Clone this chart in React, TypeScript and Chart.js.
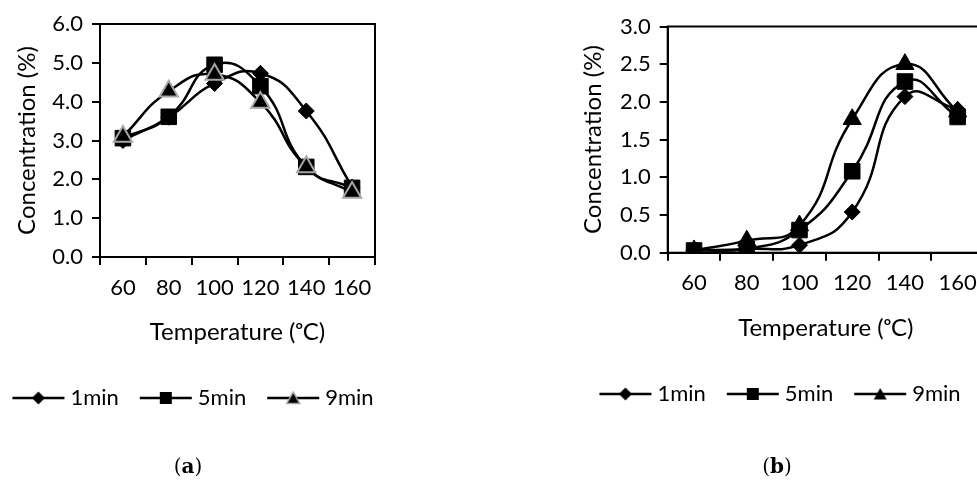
import React, { useEffect, useRef } from "react";
import { Chart, registerables } from "chart.js";

Chart.register(...registerables);

const categories = ["60", "80", "100", "120", "140", "160"];
const seriesNames = ["1min", "5min", "9min"];

const a1min = [3.0, 3.6, 4.47, 4.73, 3.76, 1.8];
const a5min = [3.06, 3.61, 4.95, 4.4, 2.32, 1.78];
const a9min = [3.1, 4.27, 4.7, 3.98, 2.32, 1.66];

const b1min = [0.03, 0.05, 0.1, 0.54, 2.07, 1.9];
const b5min = [0.03, 0.05, 0.3, 1.08, 2.27, 1.8];
const b9min = [0.03, 0.16, 0.36, 1.77, 2.5, 1.87];

const aTicks = { min: 0, max: 6, step: 1 };
const bTicks = { min: 0, max: 3, step: 0.5 };

const FONT = "Lato";
const GRAY = "#a6a6a6";

type Mk = "rectRot" | "rect" | "triangle";

function legendImage(style: Mk, border: string) {
  const c = document.createElement("canvas");
  c.width = 54;
  c.height = 16;
  const ctx = c.getContext("2d")!;
  ctx.strokeStyle = "#000";
  ctx.lineWidth = 2.5;
  ctx.beginPath();
  ctx.moveTo(1, 8);
  ctx.lineTo(53, 8);
  ctx.stroke();
  ctx.fillStyle = "#000";
  ctx.beginPath();
  if (style === "rectRot") {
    ctx.moveTo(27, 1.5);
    ctx.lineTo(33.5, 8);
    ctx.lineTo(27, 14.5);
    ctx.lineTo(20.5, 8);
  } else if (style === "rect") {
    ctx.rect(21, 2, 12, 12);
  } else {
    ctx.moveTo(27, 2);
    ctx.lineTo(33.5, 13.5);
    ctx.lineTo(20.5, 13.5);
  }
  ctx.closePath();
  ctx.fill();
  if (border !== "#000") {
    ctx.strokeStyle = border;
    ctx.lineWidth = 1.5;
    ctx.stroke();
  }
  return c;
}

const boxPlugin = {
  id: "box",
  afterDatasetsDraw(chart: any) {
    const { ctx, chartArea } = chart;
    ctx.save();
    ctx.strokeStyle = "#000";
    ctx.lineWidth = 2;
    ctx.strokeRect(chartArea.left, chartArea.top, chartArea.right - chartArea.left, chartArea.bottom - chartArea.top);
    ctx.restore();
  },
};

function makeConfig(
  values: number[][],
  ticks: { min: number; max: number; step: number },
  triBorder: string,
  geo: {
    top: number;
    yW: number;
    xH: number;
    rW: number;
    bottom: number;
    xTickPad: number;
    xTitlePad: number;
    yTitlePad: number;
  }
) {
  const styles: Mk[] = ["rectRot", "rect", "triangle"];
  const radii = [8, 11, 10.5];
  const borders = ["#000", "#000", triBorder];
  const images = styles.map((s, i) => legendImage(s, borders[i]));
  const datasets = values.map((v, i) => ({
    label: seriesNames[i],
    data: v,
    borderColor: "#000",
    borderWidth: 2.5,
    backgroundColor: "#000",
    pointStyle: styles[i],
    pointRadius: radii[i],
    pointBackgroundColor: "#000",
    pointBorderColor: borders[i],
    pointBorderWidth: i === 2 && triBorder !== "#000" ? 2 : 1,
    tension: 0.5,
    fill: false,
    order: 2 - i,
    yAxisID: "y",
  }));
  return {
    type: "line",
    data: { labels: categories, datasets },
    plugins: [boxPlugin],
    options: {
      animation: false,
      responsive: false,
      maintainAspectRatio: false,
      layout: { padding: { top: geo.top, left: 0, right: 0, bottom: geo.bottom } },
      plugins: {
        tooltip: { enabled: false },
        legend: {
          position: "bottom",
          labels: {
            usePointStyle: true,
            pointStyleWidth: 42,
            padding: 26,
            color: "#000",
            font: { family: FONT, size: 22 },
            sort: (x: any, y: any) => x.datasetIndex - y.datasetIndex,
            generateLabels: (chart: any) => {
              const items = Chart.defaults.plugins.legend.labels.generateLabels(chart);
              items.forEach((it: any) => {
                it.pointStyle = images[it.datasetIndex];
              });
              return items;
            },
          },
        },
      },
      scales: {
        x: {
          type: "category",
          offset: true,
          grid: { offset: true, drawOnChartArea: false, drawTicks: true, tickLength: 8, color: "#000", lineWidth: 2 },
          border: { color: "#000", width: 2 },
          ticks: { color: "#000", padding: geo.xTickPad, font: { family: FONT, size: 22 }, maxRotation: 0 },
          title: {
            display: true,
            text: "Temperature (ᵒC)",
            color: "#000",
            font: { family: FONT, size: 24 },
            padding: { top: 0, bottom: geo.xTitlePad },
          },
          afterFit: (s: any) => {
            s.height = geo.xH;
          },
        },
        y: {
          min: ticks.min,
          max: ticks.max,
          grid: { drawOnChartArea: false, drawTicks: true, tickLength: 8, color: "#000", lineWidth: 2 },
          border: { color: "#000", width: 2 },
          ticks: {
            stepSize: ticks.step,
            color: "#000",
            padding: 9,
            font: { family: FONT, size: 22 },
            callback: (v: any) => Number(v).toFixed(1),
          },
          title: {
            display: true,
            text: "Concentration (%)",
            color: "#000",
            font: { family: FONT, size: 24 },
            padding: { top: geo.yTitlePad, bottom: 0 },
          },
          afterFit: (s: any) => {
            s.width = geo.yW;
          },
        },
        yR: {
          type: "linear",
          position: "right",
          display: true,
          grid: { display: false },
          border: { display: false },
          ticks: { display: false },
          afterFit: (s: any) => {
            s.width = geo.rW;
          },
        },
      },
    },
  };
}

function ChartCanvas(props: { config: any; left: number; width: number }) {
  const ref = useRef<HTMLCanvasElement>(null);
  useEffect(() => {
    const chart = new Chart(ref.current!, props.config);
    return () => chart.destroy();
  }, []);
  return (
    <canvas
      ref={ref}
      width={props.width}
      height={490}
      style={{ position: "absolute", left: props.left, top: 0, width: props.width, height: 490 }}
    />
  );
}

export default function App() {
  const cfgA = makeConfig([a1min, a5min, a9min], aTicks, GRAY, {
    top: 24,
    yW: 146,
    xH: 104,
    rW: 62,
    bottom: 71,
    xTickPad: 10,
    xTitlePad: 14.6,
    yTitlePad: 58.6,
  });
  const cfgB = makeConfig([b1min, b5min, b9min], bTicks, "#000", {
    top: 26.5,
    yW: 106.7,
    xH: 104.3,
    rW: 20,
    bottom: 75,
    xTickPad: 9,
    xTitlePad: 14.6,
    yTitlePad: 17.6,
  });
  const cap: React.CSSProperties = {
    position: "absolute",
    top: 454,
    width: 60,
    textAlign: "center",
    fontFamily: "'DejaVu Serif', serif",
    fontSize: 20,
    color: "#000",
  };
  return (
    <div
      style={{
        position: "fixed",
        left: 0,
        top: 0,
        width: 977,
        height: 490,
        overflow: "hidden",
        background: "#fff",
      }}
    >
      <ChartCanvas config={cfgA} left={-46} width={483} />
      <ChartCanvas config={cfgB} left={561} width={443} />
      <div style={{ ...cap, left: 188 - 30 }}>
        (<b>a</b>)
      </div>
      <div style={{ ...cap, left: 777 - 30 }}>
        (<b>b</b>)
      </div>
    </div>
  );
}
